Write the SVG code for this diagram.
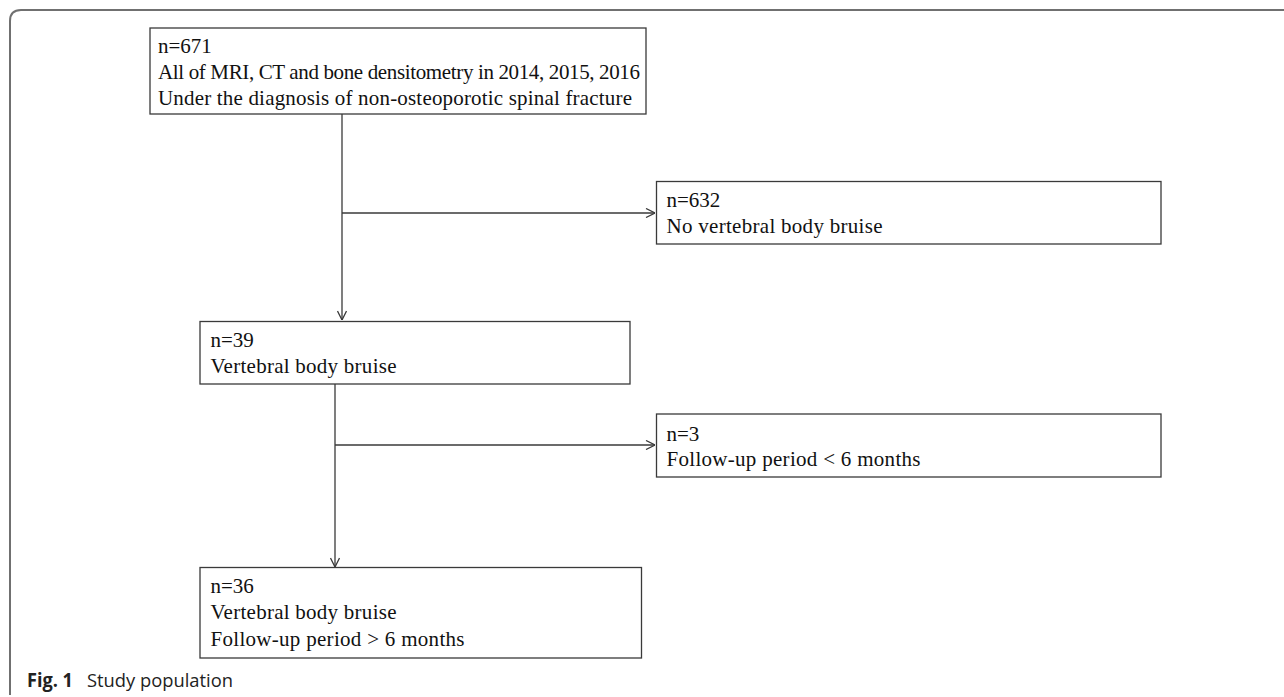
<svg xmlns="http://www.w3.org/2000/svg" width="1284" height="697" viewBox="0 0 1284 697">
  <style>
    .box { fill: #ffffff; stroke: #3a3a3a; stroke-width: 1.3; }
    .t { font-family: "Liberation Serif", "Times New Roman", serif; font-size: 21px; fill: #111111; }
    .conn { fill: none; stroke: #3a3a3a; stroke-width: 1.3; }
    .cap { font-family: "Open Sans", "Noto Sans", sans-serif; font-size: 19px; fill: #222222; }
  </style>
  <defs>
    <marker id="arr" viewBox="0 0 10 10" refX="10" refY="5" markerWidth="10" markerHeight="10" markerUnits="userSpaceOnUse" orient="auto">
      <path d="M1,0.5 L10,5 L1,9.5" fill="none" stroke="#3a3a3a" stroke-width="1.3"/>
    </marker>
  </defs>
  <rect x="0" y="0" width="1284" height="697" fill="#ffffff"/>
  <path d="M10,695 V21 Q10,10 21,10 H1284" fill="none" stroke="#707070" stroke-width="2"/>

  <g id="connectors">
    <path class="conn" d="M342,114 V320" marker-end="url(#arr)"/>
    <path class="conn" d="M342,213 H655" marker-end="url(#arr)"/>
    <path class="conn" d="M335,384 V567" marker-end="url(#arr)"/>
    <path class="conn" d="M335,445 H655" marker-end="url(#arr)"/>
  </g>

  <g id="node1">
    <rect class="box" x="150" y="28" width="496" height="86"/>
    <text class="t" x="158" y="53">n=671</text>
    <text class="t" x="158" y="79" textLength="482" lengthAdjust="spacing">All of MRI, CT and bone densitometry  in 2014, 2015, 2016</text>
    <text class="t" x="158" y="105" textLength="474" lengthAdjust="spacing">Under the diagnosis of non-osteoporotic spinal fracture</text>
  </g>

  <g id="node2">
    <rect class="box" x="656.5" y="181.5" width="504.5" height="62.5"/>
    <text class="t" x="666.5" y="207">n=632</text>
    <text class="t" x="666.5" y="233" textLength="216" lengthAdjust="spacing">No vertebral  body  bruise</text>
  </g>

  <g id="node3">
    <rect class="box" x="200" y="321.5" width="430" height="62.5"/>
    <text class="t" x="210.5" y="347">n=39</text>
    <text class="t" x="210.5" y="373" textLength="186" lengthAdjust="spacing">Vertebral  body  bruise</text>
  </g>

  <g id="node4">
    <rect class="box" x="656.5" y="414" width="504.5" height="63"/>
    <text class="t" x="666.5" y="441">n=3</text>
    <text class="t" x="666.5" y="466" textLength="254" lengthAdjust="spacing">Follow-up period &lt; 6 months</text>
  </g>

  <g id="node5">
    <rect class="box" x="200" y="567.5" width="441.5" height="90.5"/>
    <text class="t" x="210.5" y="593">n=36</text>
    <text class="t" x="210.5" y="619" textLength="186" lengthAdjust="spacing">Vertebral  body  bruise</text>
    <text class="t" x="210.5" y="646" textLength="254" lengthAdjust="spacing">Follow-up period &gt; 6 months</text>
  </g>

  <g id="caption">
    <text class="cap" x="27" y="687" font-weight="bold" textLength="46" lengthAdjust="spacingAndGlyphs">Fig. 1</text>
    <text class="cap" x="87" y="687" textLength="146" lengthAdjust="spacingAndGlyphs">Study population</text>
  </g>
</svg>
